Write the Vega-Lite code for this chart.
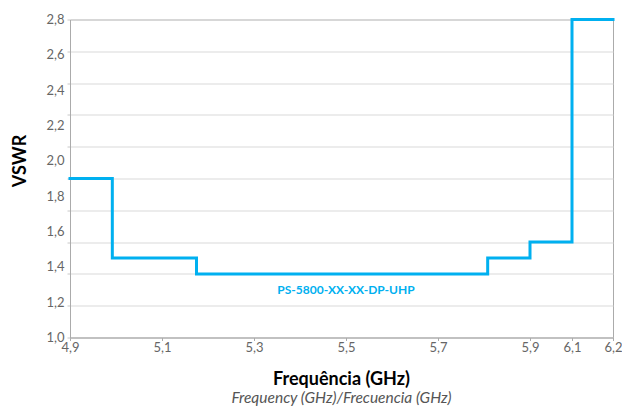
{
  "$schema": "https://vega.github.io/schema/vega-lite/v6.json",
  "width": 543,
  "height": 318,
  "autosize": "none",
  "padding": {"left": 70, "top": 19.5, "right": 9, "bottom": 70.5},
  "background": "white",
  "config": {
    "font": "Lato",
    "locale": {"number": {"decimal": ",", "thousands": ".", "grouping": [3], "currency": ["", ""]}},
    "view": {"stroke": "#ababab", "strokeWidth": 1}
  },
  "title": {
    "text": "Frequência (GHz)",
    "subtitle": "Frequency (GHz)/Frecuencia (GHz)",
    "orient": "bottom",
    "anchor": "middle",
    "frame": "group",
    "font": "Lato",
    "fontSize": 18,
    "fontWeight": "bold",
    "color": "#000000",
    "subtitleFont": "Lato",
    "subtitleFontSize": 15.5,
    "subtitleFontStyle": "italic",
    "subtitleColor": "#555555",
    "subtitlePadding": 2,
    "offset": 16
  },
  "resolve": {"axis": {"y": "independent"}},
  "layer": [
    {
      "data": {"values": [
        {"freq": 4.9, "vswr": 1.9},
        {"freq": 4.992, "vswr": 1.45},
        {"freq": 5.175, "vswr": 1.36},
        {"freq": 5.808, "vswr": 1.45},
        {"freq": 5.9, "vswr": 1.54},
        {"freq": 6.1, "vswr": 2.8},
        {"freq": 6.2, "vswr": 2.8}
      ]},
      "mark": {"type": "line", "interpolate": "step-after", "color": "#00b0f0", "strokeWidth": 3, "strokeJoin": "miter", "strokeCap": "square"},
      "encoding": {
        "x": {
          "field": "freq", "type": "quantitative",
          "scale": {"domain": [4.9, 5.9, 6.1, 6.2], "range": [0, 460, 502, 543], "nice": false, "zero": false},
          "axis": {
            "title": null,
            "values": [4.9, 5.1, 5.3, 5.5, 5.7, 5.9, 6.1, 6.2],
            "format": ".1f",
            "grid": false,
            "ticks": true,
            "tickSize": 3,
            "tickColor": "#ababab",
            "domainColor": "#ababab",
            "labelFont": "Lato",
            "labelFontSize": 13,
            "labelColor": "#666666",
            "labelPadding": 1,
            "labelFlush": false
          }
        },
        "y": {
          "field": "vswr", "type": "quantitative",
          "scale": {"domain": [1.0, 2.8], "nice": false, "zero": false},
          "axis": {
            "title": null,
            "values": [1.0, 1.18, 1.36, 1.54, 1.72, 1.9, 2.08, 2.26, 2.44, 2.62, 2.8],
            "labels": false,
            "domain": false,
            "grid": true,
            "gridColor": "#d9d9d9",
            "ticks": true,
            "tickSize": 3,
            "tickColor": "#c8c8c8"
          }
        }
      }
    },
    {
      "data": {"values": [{"freq": 5.5, "vswr": 1.27, "label": "PS-5800-XX-XX-DP-UHP"}]},
      "mark": {"type": "text", "font": "Lato", "fontSize": 12, "fontWeight": "bold", "color": "#00b0f0", "align": "center", "baseline": "middle"},
      "encoding": {
        "x": {"field": "freq", "type": "quantitative"},
        "y": {
          "field": "vswr", "type": "quantitative",
          "axis": {
            "orient": "left",
            "title": "VSWR",
            "titleFont": "Lato",
            "titleFontSize": 18,
            "titleFontWeight": "bold",
            "titleColor": "#000000",
            "titleAngle": 270,
            "titleBaseline": "middle",
            "titleAlign": "center",
            "titleX": -50,
            "titleY": 141,
            "values": [1.0, 1.2, 1.4, 1.6, 1.8, 2.0, 2.2, 2.4, 2.6, 2.8],
            "format": ".1f",
            "grid": false,
            "ticks": false,
            "domain": true,
            "domainColor": "#ababab",
            "labelFont": "Lato",
            "labelFontSize": 13,
            "labelColor": "#666666",
            "labelPadding": 6
          }
        },
        "text": {"field": "label"}
      }
    }
  ]
}
